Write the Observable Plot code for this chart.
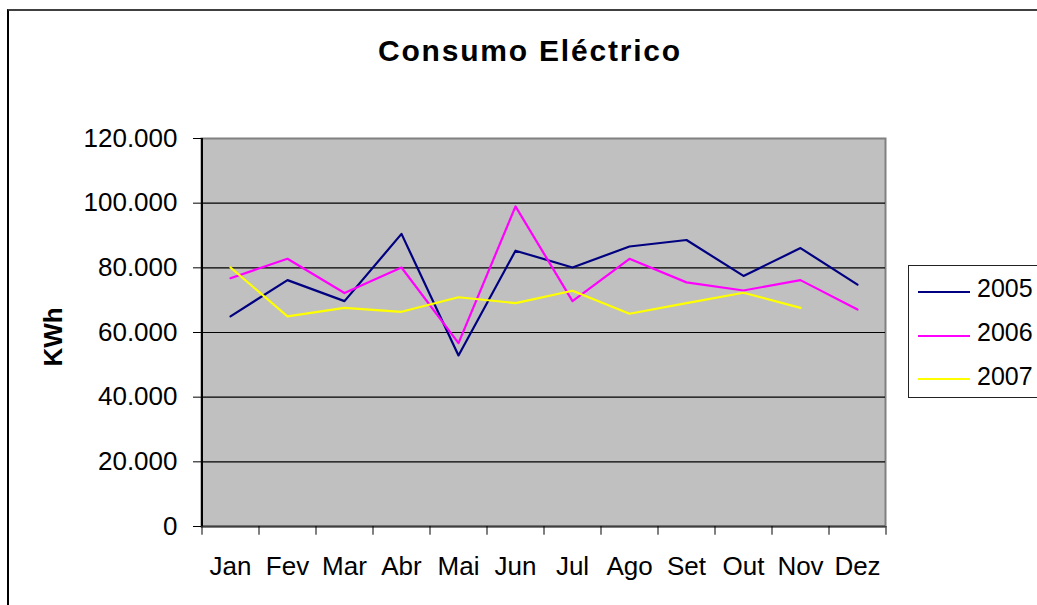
<!DOCTYPE html>
<html>
<head>
<meta charset="utf-8">
<script src="https://cdn.jsdelivr.net/npm/d3@7"></script>
<script src="https://cdn.jsdelivr.net/npm/@observablehq/plot@0.6"></script>
<style>
  html, body { margin: 0; padding: 0; width: 1037px; height: 605px; overflow: hidden; background: #fff; }
  body { position: relative; font-family: "Liberation Sans", Arial, sans-serif; }
  #chart { position: absolute; left: 0; top: 0; }
  .abs { position: absolute; white-space: nowrap; }
</style>
</head>
<body>
<div class="abs" style="left:7px;top:9px;width:1200px;height:800px;border-left:2px solid #000;border-top:2px solid #404040;"></div>
<div id="chart" class="abs"></div>
<div class="abs" id="title" style="left:0;width:1060px;top:36px;text-align:center;font-weight:bold;font-size:30px;line-height:30px;letter-spacing:1.8px;">Consumo Eléctrico</div>
<div class="abs" id="ylab" style="left:53px;top:337px;font-weight:bold;font-size:26px;line-height:26px;transform:translate(-50%,-50%) rotate(-90deg);">KWh</div>
<div class="abs" id="legend" style="left:908px;top:265px;width:200px;height:131px;border:1px solid #222;background:#fff;"></div>
<script>
const months = ["Jan","Fev","Mar","Abr","Mai","Jun","Jul","Ago","Set","Out","Nov","Dez"];
const series = ["2005","2006","2007"];
const v2005 = [65000,76200,69700,90500,52900,85300,80100,86600,88600,77500,86100,74800];
const v2006 = [76800,82800,72200,80100,56700,99000,69700,82800,75500,73000,76200,67100];
const v2007 = [80100,65000,67600,66400,70900,69100,72900,65800,69100,72300,67600,null];
const colors = ["#000080","#FF00FF","#FFFF00"];
const yTicks = [0,20000,40000,60000,80000,100000,120000];
const gridTicks = [20000,40000,60000,80000,100000];

const values = [v2005, v2006, v2007];
const rows = [];
series.forEach((s, si) => {
  months.forEach((m, mi) => {
    const v = values[si][mi];
    if (v != null) rows.push({serie: s, month: m, value: v});
  });
});

const fmt = d => d === 0 ? "0" : d3.format(",")(d).replace(/,/g, ".");

const plot = Plot.plot({
  width: 1037,
  height: 605,
  marginLeft: 201,
  marginRight: 152,
  marginTop: 138,
  marginBottom: 79,
  style: {fontFamily: "Liberation Sans, Arial, sans-serif", fontSize: "26px", background: "transparent", color: "#000"},
  x: {type: "point", domain: months, padding: 0.5, label: null},
  y: {domain: [0, 120000], label: null},
  color: {domain: series, range: colors},
  marks: [
    Plot.frame({fill: "#C0C0C0", stroke: "#808080", strokeWidth: 2}),
    Plot.ruleY(gridTicks, {stroke: "#000", strokeWidth: 1.2}),
    Plot.line(rows, {x: "month", y: "value", z: "serie", stroke: "serie", strokeWidth: 2.2}),
    Plot.ruleY([0], {stroke: "#404040", strokeWidth: 2}),
    Plot.ruleX(["Jan"], {dx: -28.5, stroke: "#000", strokeWidth: 2}),
    Plot.ruleX(months, {x: d => d, dx: -28.5, y1: 0, y2: -2700, stroke: "#000"}),
    Plot.ruleX(["Dez"], {x: d => d, dx: 28.5, y1: 0, y2: -2700, stroke: "#000"}),
    Plot.axisY({ticks: yTicks, tickFormat: fmt, tickSize: 8, tickPadding: 16, fontSize: 26, label: null}),
    Plot.axisX({tickSize: 0, tickPadding: 30, fontSize: 26, label: null})
  ]
});
document.getElementById("chart").appendChild(plot);

// legend
const legend = document.getElementById("legend");
series.forEach((s, i) => {
  const cy = 290.7 + i * 43.8 - 265;
  const line = document.createElement("div");
  line.className = "abs";
  line.style.cssText = `left:${918-909}px;top:${cy-1}px;width:52px;height:2px;background:${colors[i]};`;
  legend.appendChild(line);
  const t = document.createElement("div");
  t.className = "abs";
  t.style.cssText = `left:${977-909}px;top:${cy-4-12.7}px;font-size:25px;line-height:26px;`;
  t.textContent = s;
  legend.appendChild(t);
});
</script>
</body>
</html>
